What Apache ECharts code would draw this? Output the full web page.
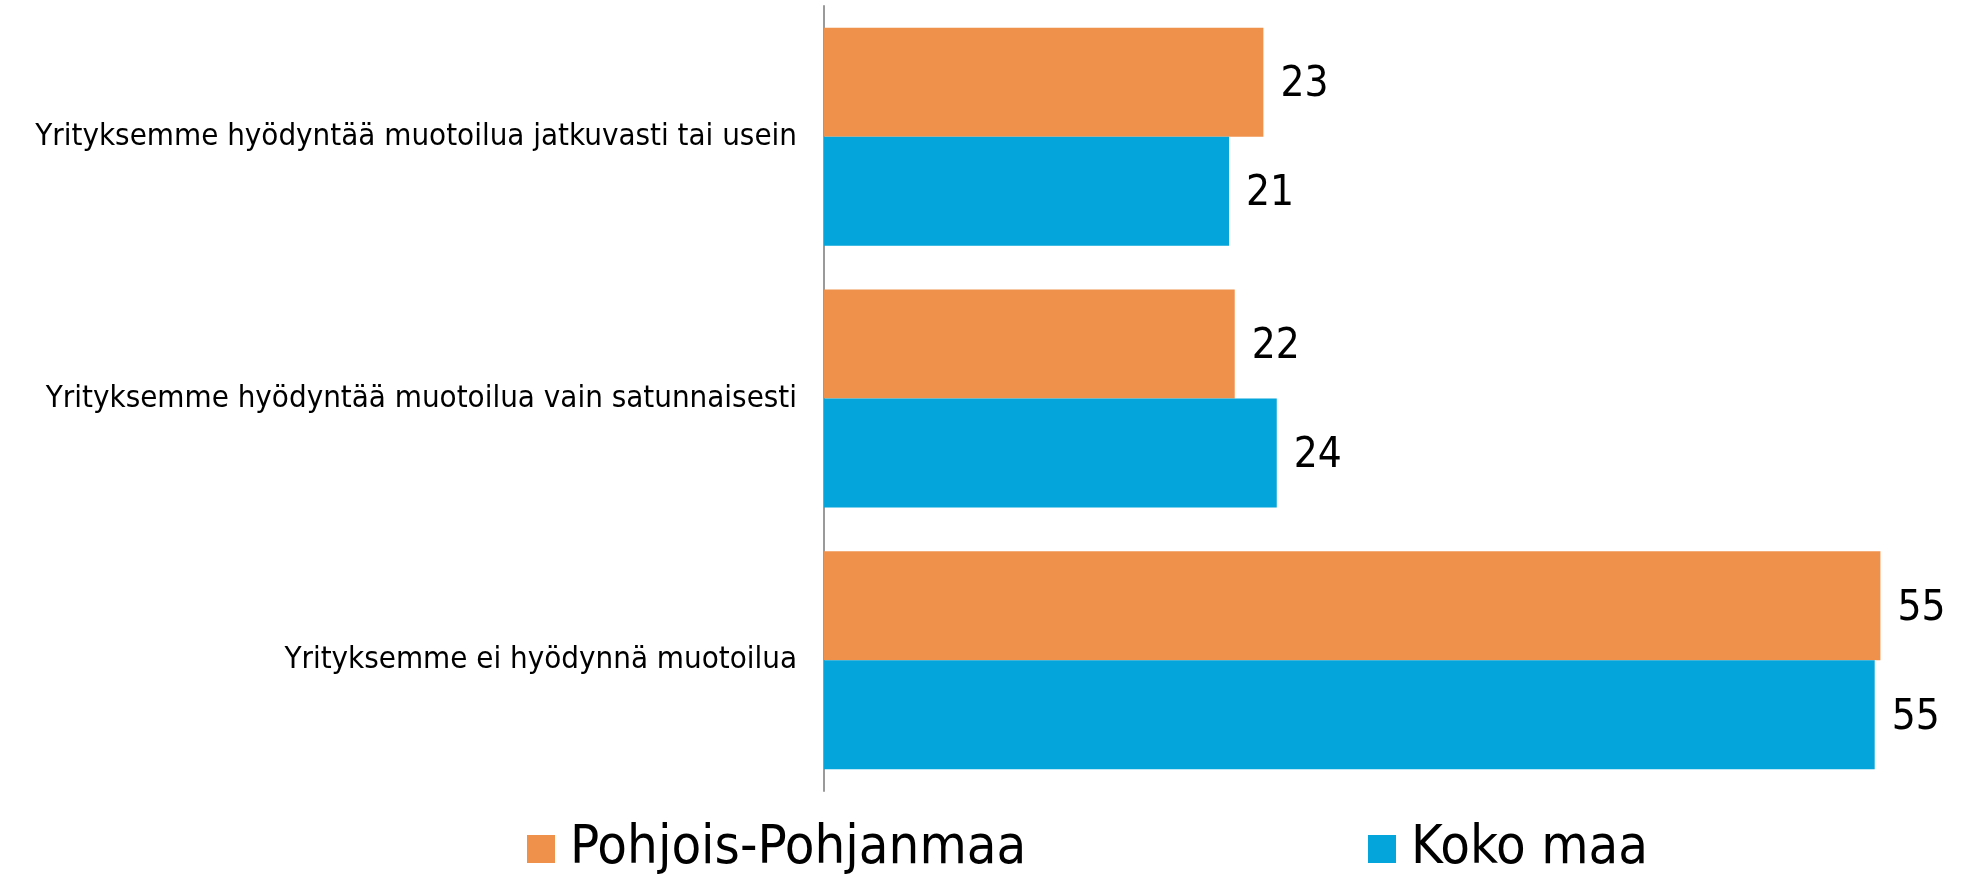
<!DOCTYPE html>
<html>
<head>
<meta charset="utf-8">
<script src="https://cdn.jsdelivr.net/npm/echarts@6/dist/echarts.min.js"></script>
<style>
  html, body { margin: 0; padding: 0; background: #fff; }
  #chart { width: 1962px; height: 878px; }
</style>
</head>
<body>
<div id="chart"></div>
<script>
// kategoriat ylhäältä alas
const categories = [
  'Yrityksemme hyödyntää muotoilua jatkuvasti tai usein',
  'Yrityksemme hyödyntää muotoilua vain satunnaisesti',
  'Yrityksemme ei hyödynnä muotoilua'
]
const seriesNames = ['Pohjois-Pohjanmaa', 'Koko maa']
const pohjoisPohjanmaa = [23.0, 21.5, 55.3]
const kokoMaa = [21.2, 23.7, 55.0]

const FONT = '"DejaVu Sans Condensed", "DejaVu Sans", sans-serif'
const colors = ['#F0914B', '#03A5DA']

const chart = echarts.init(document.getElementById('chart'))

const barLabel = {
  show: true,
  position: 'right',
  distance: 17,
  offset: [0, 3],
  color: '#000',
  fontFamily: FONT,
  fontSize: 42,
  formatter: (p) => Math.round(p.value)
}

const legendText = { color: '#000', fontFamily: FONT, fontSize: 54, padding: [0, 0, 0, 10] }

const options = {
  animation: false,
  color: colors,
  legend: [
    {
      data: [seriesNames[0]],
      left: 527,
      top: 822,
      padding: 0,
      itemWidth: 28,
      itemHeight: 28,
      icon: 'rect',
      textStyle: legendText
    },
    {
      data: [seriesNames[1]],
      left: 1368,
      top: 822,
      padding: 0,
      itemWidth: 28,
      itemHeight: 28,
      icon: 'rect',
      textStyle: legendText
    }
  ],
  grid: {
    left: 824,
    top: 6,
    bottom: 87,
    right: 30,
    containLabel: false
  },
  xAxis: {
    type: 'value',
    min: 0,
    max: 58,
    show: false
  },
  yAxis: {
    type: 'category',
    inverse: true,
    data: categories,
    axisLine: { show: true, lineStyle: { color: '#9a9a9a', width: 2 } },
    axisTick: { show: false },
    axisLabel: {
      color: '#000',
      fontFamily: FONT,
      fontSize: 31,
      margin: 27
    }
  },
  series: [
    {
      name: seriesNames[0],
      type: 'bar',
      barWidth: 109,
      barGap: '0%',
      data: pohjoisPohjanmaa,
      label: barLabel
    },
    {
      name: seriesNames[1],
      type: 'bar',
      barWidth: 109,
      barGap: '0%',
      data: kokoMaa,
      label: barLabel
    }
  ]
}
chart.setOption(options)
</script>
</body>
</html>
